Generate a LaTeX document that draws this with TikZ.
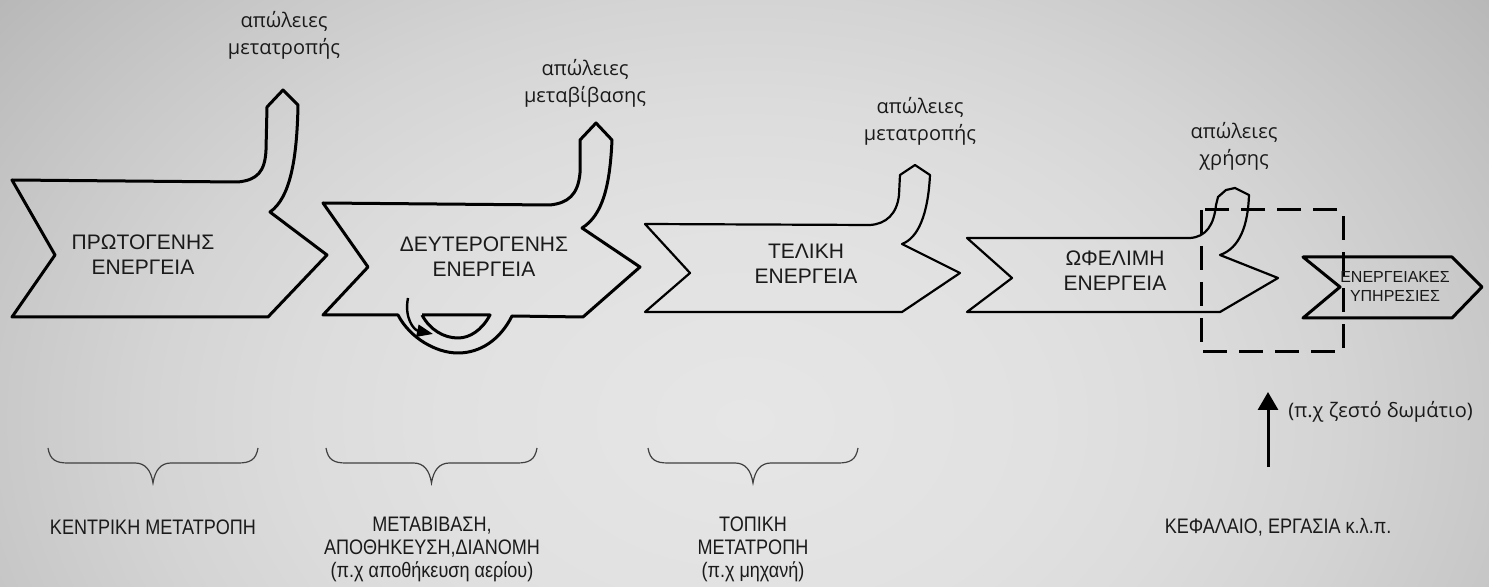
\documentclass[tikz,border=0pt]{standalone}
\usepackage{fontspec}
\setmainfont{Liberation Sans}
\newfontfamily\lowfont{Open Sans}
\newfontfamily\narrowfont[FakeStretch=0.86]{Liberation Sans}
\usetikzlibrary{arrows.meta}
\definecolor{bga}{HTML}{E6E6E6}
\definecolor{bgb}{HTML}{E1E1E1}
\definecolor{bgc}{HTML}{DCDCDC}
\definecolor{bgd}{HTML}{D4D4D4}
\definecolor{bge}{HTML}{C9C9C9}
\definecolor{bgf}{HTML}{BDBDBD}
\definecolor{bgg}{HTML}{B0B0B0}
\definecolor{txt}{HTML}{1A1A1A}
\pgfdeclareradialshading{bgshade}{\pgfpoint{0bp}{0bp}}{color(0bp)=(bga); color(10bp)=(bgb); color(15bp)=(bgc); color(20bp)=(bgd); color(25bp)=(bge); color(30bp)=(bgf); color(35bp)=(bgg); color(50bp)=(bgg)}
\begin{document}
\begin{tikzpicture}[x=0.5pt,y=-0.5pt,
  shp/.style={line width=1.5pt, line join=round},
  shpthin/.style={line width=1.1pt, line join=round},
  captext/.style={font=\fontsize{10.5}{12.5}\selectfont, align=center, inner sep=0pt, text=txt},
  smalltext/.style={font=\fontsize{8}{9.5}\selectfont, align=center, inner sep=0pt, text=txt},
  losstext/.style={font=\lowfont\fontsize{10}{13.5}\selectfont, align=center, inner sep=0pt, text=txt},
  bottext/.style={font=\narrowfont\fontsize{10.5}{11.5}\selectfont, align=center, inner sep=0pt, text=txt},
  bracepath/.style={line width=0.6pt, draw=black!75}]
\useasboundingbox (0,0) rectangle (1489,587);
\begin{scope}
\clip (0,0) rectangle (1489,587);
\shade[shading=bgshade] (0,-108) rectangle (1490,948);
\end{scope}

% shape 1
\draw[shp] (12,180) -- (238,182) .. controls (257,180) and (265,172) .. (266,150) -- (267,107) -- (283,90) -- (298,105)
  .. controls (297,160) and (290,198) .. (270,212) -- (327,255) -- (268,317) -- (12,317) -- (55,255) -- cycle;
% shape 2
\draw[shp] (323,203) -- (550,205) .. controls (568,203) and (578,195) .. (580,173) -- (580,140) -- (596,123) -- (612,140)
  .. controls (610,185) and (603,215) .. (582,228) -- (640,267) -- (583,317) -- (512,316)
  .. controls (500,340) and (480,353) .. (458,353) .. controls (436,353) and (410,338) .. (398,315)
  -- (323,315) -- (368,267) -- cycle;
\draw[shp] (422,315) -- (490,315) .. controls (482,330) and (470,338) .. (458,338) .. controls (444,338) and (430,330) .. (422,315);
\draw[line width=1.2pt, -{Triangle[width=6pt,length=8pt]}] (408,298) .. controls (404,318) and (414,330) .. (433,334);
% shape 3
\draw[shpthin] (645,224) -- (870,225) .. controls (886,224) and (897,214) .. (899,195) -- (900,175) -- (915,165) -- (930,175)
  .. controls (928,215) and (918,238) .. (902,244) -- (960,273) -- (902,312) -- (645,312) -- (690,273) -- cycle;
% shape 4
\draw[shpthin] (967,238) -- (1190,238) .. controls (1206,237) and (1214,225) .. (1216,205) -- (1218,197) -- (1226,190) -- (1235,188) -- (1249,195)
  .. controls (1248,225) and (1240,248) .. (1220,255) -- (1278,278) -- (1220,312) -- (967,312) -- (1012,278) -- cycle;
% shape 5
\draw[shp] (1303,257) -- (1452,257) -- (1482,287) -- (1452,318) -- (1303,318) -- (1340,287) -- cycle;
% dashed box
\draw[line width=1.5pt, dash pattern=on 12pt off 6pt] (1201,210) rectangle (1343,352);

% texts in shapes
\node[captext] (t1) at (143,255) {ΠΡΩΤΟΓΕΝΗΣ\\ΕΝΕΡΓΕΙΑ};
\node[captext] (t2) at (484,257) {ΔΕΥΤΕΡΟΓΕΝΗΣ\\ΕΝΕΡΓΕΙΑ};
\node[captext] (t3) at (806,264) {ΤΕΛΙΚΗ\\ΕΝΕΡΓΕΙΑ};
\node[captext] (t4) at (1115,271) {ΩΦΕΛΙΜΗ\\ΕΝΕΡΓΕΙΑ};
\node[smalltext] (t5) at (1395,286) {ΕΝΕΡΓΕΙΑΚΕΣ\\ΥΠΗΡΕΣΙΕΣ};

% loss labels
\node[losstext] (l1) at (284,35) {απώλειες\\μετατροπής};
\node[losstext] (l2) at (585,83) {απώλειες\\μεταβίβασης};
\node[losstext] (l3) at (920,121) {απώλειες\\μετατροπής};
\node[losstext] (l4) at (1234,146) {απώλειες\\χρήσης};

% braces
\foreach \L/\R in {48/258, 326/537, 648/858}{
  \pgfmathsetmacro{\M}{(\L+\R)/2}
  \draw[bracepath] (\L,448) .. controls ({\L+2},460) and ({\L+8},463) .. ({\L+20},463) -- ({\M-18},463)
    .. controls ({\M-8},463) and ({\M-2},470) .. (\M,483) .. controls ({\M+2},470) and ({\M+8},463) .. ({\M+18},463)
    -- ({\R-20},463) .. controls ({\R-8},463) and ({\R-2},460) .. (\R,448);
}

% bottom labels
\node[bottext] (b1) at (153,527) {ΚΕΝΤΡΙΚΗ ΜΕΤΑΤΡΟΠΗ};
\node[bottext] (b2) at (432,549) {ΜΕΤΑΒΙΒΑΣΗ,\\ΑΠΟΘΗΚΕΥΣΗ,ΔΙΑΝΟΜΗ\\(π.χ αποθήκευση αερίου)};
\node[bottext] (b3) at (753,549) {ΤΟΠΙΚΗ\\ΜΕΤΑΤΡΟΠΗ\\(π.χ μηχανή)};
\node[bottext] (b4) at (1278,527) {ΚΕΦΑΛΑΙΟ, ΕΡΓΑΣΙΑ κ.λ.π.};

% input arrow
\coordinate (kb) at (1268,467);
\coordinate (kt) at (1268,392);
\draw[line width=1.5pt, -{Triangle[width=10pt,length=9pt]}] (kb) -- (kt);
\node[losstext, anchor=west] (ex) at (1288,412) {(π.χ ζεστό δωμάτιο)};
\end{tikzpicture}
\end{document}
